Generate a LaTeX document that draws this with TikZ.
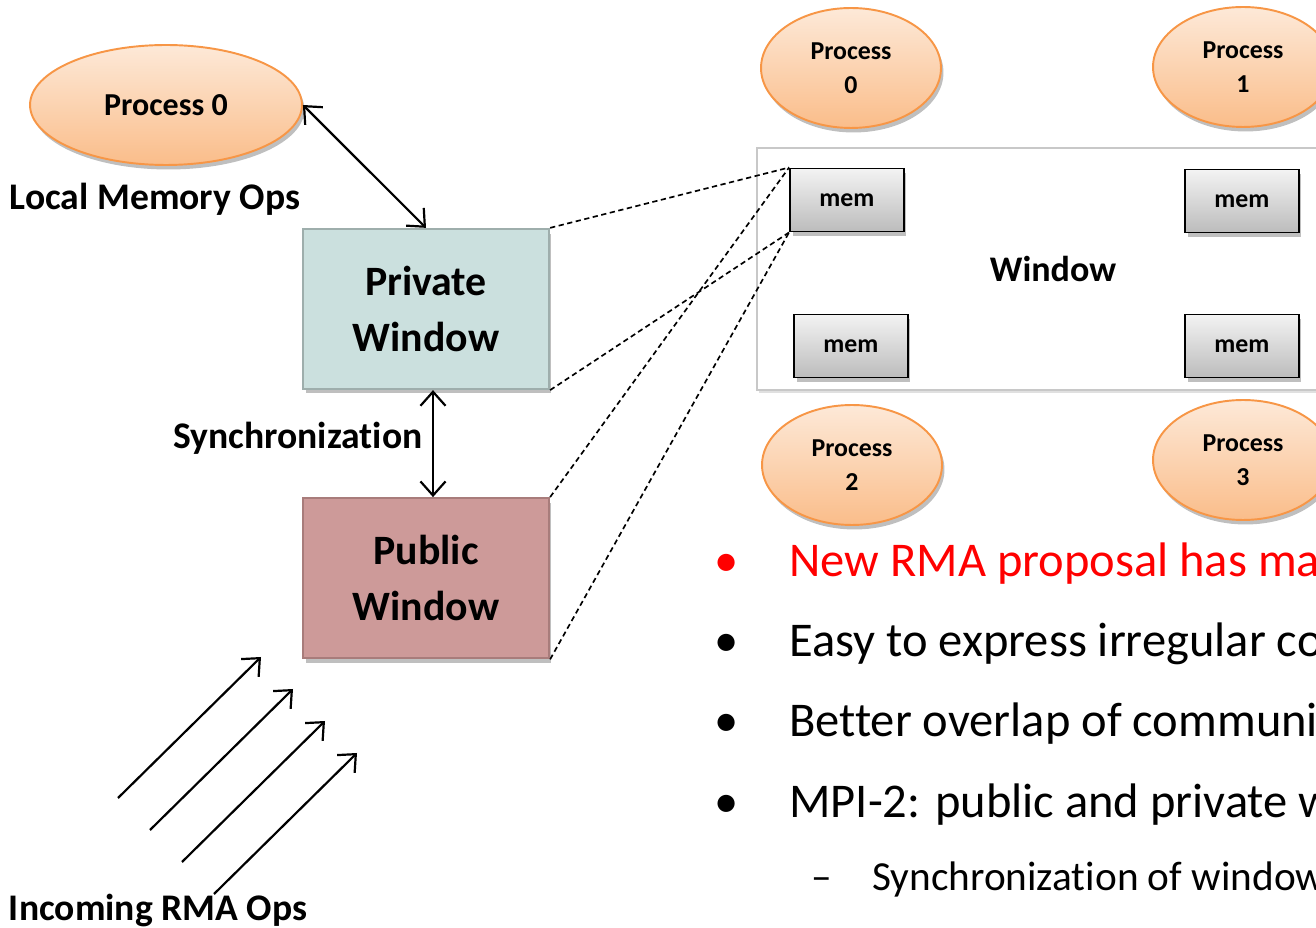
\documentclass[tikz,border=0pt]{standalone}
\usepackage{fontspec}
\setmainfont[Ligatures={NoCommon}]{Carlito}
\usepackage{tikz}
\usetikzlibrary{shapes.geometric,arrows.meta,positioning,shadows}
\definecolor{procborder}{RGB}{247,150,70}
\definecolor{proctop}{RGB}{253,233,216}
\definecolor{procbottom}{RGB}{250,189,138}
\definecolor{privfill}{RGB}{203,224,222}
\definecolor{privborder}{RGB}{158,174,172}
\definecolor{pubfill}{RGB}{205,154,153}
\definecolor{pubborder}{RGB}{168,124,123}
\definecolor{winborder}{RGB}{200,200,200}
\definecolor{memtop}{RGB}{243,243,243}
\definecolor{membottom}{RGB}{188,188,188}
\definecolor{newred}{RGB}{255,0,0}

\begin{document}
\begin{tikzpicture}[x=0.02cm,y=-0.02cm,>={Straight Barb[length=2.8mm,width=5mm]},
  softshadow/.style={drop shadow={shadow xshift=0.05cm,shadow yshift=-0.09cm,opacity=0.25,fill=black}},
  proc/.style={ellipse,draw=procborder,line width=1.1pt,top color=proctop,bottom color=procbottom,
    minimum width=3.6cm,minimum height=2.4cm,inner sep=0pt,align=center,
    font=\fontsize{14.7}{19.3}\selectfont\bfseries,softshadow},
  wbox/.style={draw,line width=1.3pt,minimum width=4.92cm,minimum height=3.2cm,align=center,
    font=\fontsize{23.8}{31.7}\selectfont\bfseries,softshadow},
  mem/.style={draw,line width=1.1pt,top color=memtop,bottom color=membottom,
    minimum width=2.28cm,minimum height=1.26cm,inner sep=0pt,
    font=\fontsize{14.7}{18}\selectfont\bfseries,softshadow},
  lbl/.style={font=\fontsize{21.4}{25}\selectfont\bfseries},
  conn/.style={<->,line width=1.25pt},
  dashline/.style={dashed,line width=0.95pt,dash pattern=on 3pt off 2pt},
  bul/.style={anchor=base,font=\fontsize{27.6}{33}\selectfont},
  itemtxt/.style={anchor=base west,inner sep=0pt,font=\fontsize{27.6}{33}\selectfont}]
\useasboundingbox (0,0) rectangle (1316,928);

% left side: one process and its two windows
\node[proc,minimum width=5.44cm,font=\fontsize{18.2}{22}\selectfont\bfseries](p0l) at (166,105){Process 0};
\node[lbl](local) at (155,199){Local Memory Ops};
\node[wbox,fill=privfill,draw=privborder](priv) at (426,309){Private\\Window};
\node[wbox,fill=pubfill,draw=pubborder,below=2.14cm of priv](pub){Public\\Window};
\node[lbl](sync) at (298,438){Synchronization};
\node[lbl](incoming) at (158,910){Incoming RMA Ops};

\draw[conn](p0l.east)--(priv.north);
\draw[conn]([xshift=0.14cm]priv.south)--([xshift=0.14cm]pub.north);
\foreach \i in {0,...,3}
  \draw[->,line width=1.25pt](118+32*\i,798+32*\i)--++(143,-141);

% right side: shared window
\node[draw=winborder,line width=1.4pt,minimum width=11.84cm,minimum height=4.84cm,
  font=\fontsize{20.5}{24}\selectfont\bfseries,
  drop shadow={shadow xshift=0.04cm,shadow yshift=-0.06cm,opacity=0.12,fill=black},fill=white](win) at (1053,269){Window};
\node[mem](mem0) at (847,200){mem};
\node[mem](mem1) at (1242,201){mem};
\node[mem](mem2) at (851,346){mem};
\node[mem](mem3) at (1242,346){mem};
\node[proc](proc0) at (851,68){Process\\0};
\node[proc](proc1) at (1243,67){Process\\1};
\node[proc](proc2) at (852,465){Process\\2};
\node[proc](proc3) at (1243,460){Process\\3};

\draw[dashline](priv.north east)--(mem0.north west);
\draw[dashline](priv.south east)--(mem0.south west);
\draw[dashline](pub.north east)--(mem0.north west);
\draw[dashline](pub.south east)--(mem0.south west);

% bullet list
\node[bul,text=newred](b1) at (727,577){•};
\node[itemtxt,text=newred](t1) at (789,577){New RMA proposal has maj};
\node[bul](b2) at (727,657){•};
\node[itemtxt](t2) at (789,657){Easy to express irregular co};
\node[bul](b3) at (727,737){•};
\node[itemtxt](t3) at (789,737){Better overlap of communic};
\node[bul](b4) at (727,818){•};
\node[itemtxt](t4) at (789,818){MPI-2: public and private w};
\node[bul,font=\fontsize{23.5}{28}\selectfont](b5) at (822,891){–};
\node[itemtxt,font=\fontsize{23.5}{28}\selectfont](t5) at (872,891){Synchronization of window};
\end{tikzpicture}
\end{document}
